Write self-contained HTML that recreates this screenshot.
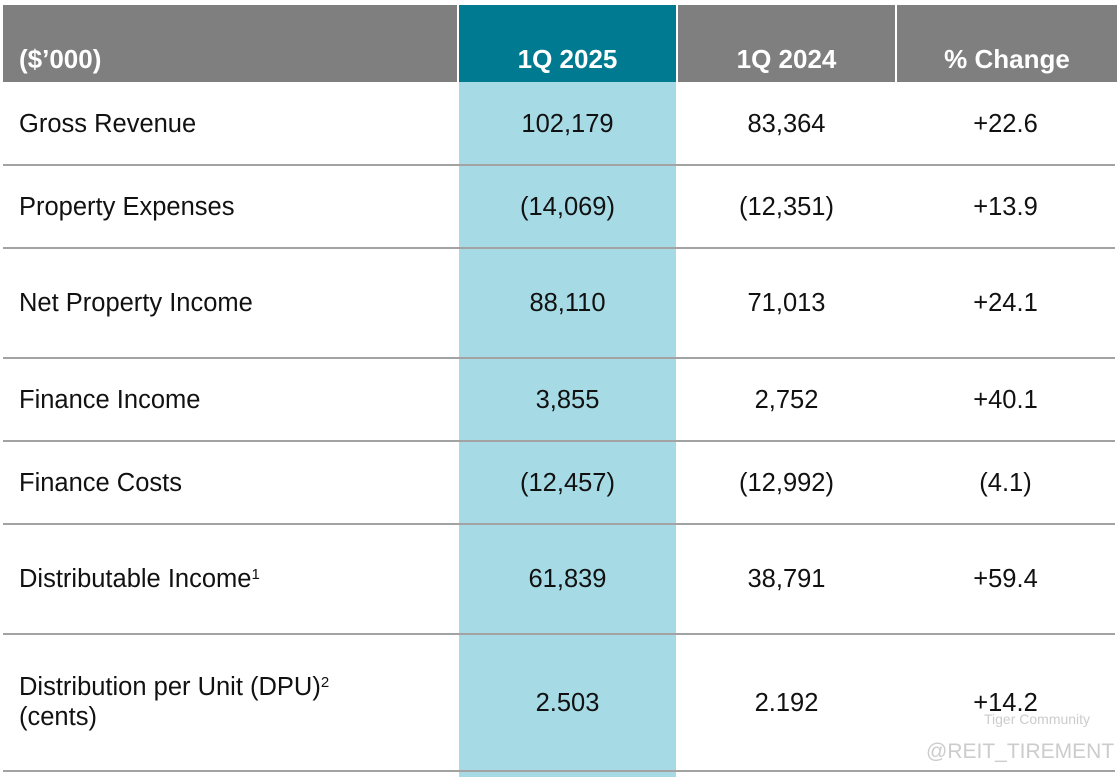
<!DOCTYPE html>
<html><head><meta charset="utf-8"><style>
body{margin:0;width:1117px;height:777px;background:#fff;position:relative;overflow:hidden;font-family:"Liberation Sans",sans-serif;}
.h{position:absolute;top:5px;height:77px;background:#7f7f7f;color:#fff;font-weight:bold;font-size:26px;line-height:26px;box-sizing:border-box;padding-top:41px;}
.col{position:absolute;top:82px;left:459px;width:217px;height:695px;background:#a6dbe6;}
.line{position:absolute;left:3px;width:1112px;height:2px;background:#a3a3a3;}
.t{position:absolute;font-size:25.5px;color:#111;line-height:30px;}
.c{text-align:center;width:217px;}
sup{font-size:15px;vertical-align:top;position:relative;top:-4px;}
</style></head><body>
<div class="h" style="left:3px;width:454px;padding-left:16px">($’000)</div>
<div class="h" style="left:459px;width:217px;background:#007a91;text-align:center">1Q 2025</div>
<div class="h" style="left:678px;width:217px;text-align:center">1Q 2024</div>
<div class="h" style="left:897px;width:220px;text-align:center">% Change</div>
<div class="col"></div>
<div id="rows"></div>
<div class="t" style="left:984px;top:704px;font-size:14px;color:#ccc">Tiger Community</div>
<div class="t" style="left:926px;top:737px;font-size:21px;color:#ccc">@REIT_TIREMENT</div>
<script>
const labels=["Gross Revenue","Property Expenses","Net Property Income","Finance Income","Finance Costs","Distributable Income<sup>1</sup>","Distribution per Unit (DPU)<sup>2</sup><br>(cents)"];
const v2025=["102,179","(14,069)","88,110","3,855","(12,457)","61,839","2.503"];
const v2024=["83,364","(12,351)","71,013","2,752","(12,992)","38,791","2.192"];
const chg=["+22.6","+13.9","+24.1","+40.1","(4.1)","+59.4","+14.2"];
const bounds=[82,165,248,358,441,524,634,771];
const R=document.getElementById('rows');
for(let i=0;i<labels.length;i++){
 const top=bounds[i],bot=bounds[i+1],mid=(top+bot)/2;
 const multi=labels[i].includes('<br>');
 const a=document.createElement('div');a.className='t';
 
 
 a.style.left='19px';a.style.top=(mid-(multi?31:15))+'px';a.innerHTML=labels[i];R.appendChild(a);
 [[459,v2025[i],'value-1q2025'],[678,v2024[i],'value-1q2024'],[897,chg[i],'value-change']].forEach(([x,t,n])=>{
  const d=document.createElement('div');d.className='t c';
  
  
  d.style.left=x+'px';d.style.top=(mid-15)+'px';d.textContent=t;R.appendChild(d);});
 const l=document.createElement('div');l.className='line';
 
 
 l.style.top=(bot-1)+'px';R.appendChild(l);
}
</script>
</body></html>
